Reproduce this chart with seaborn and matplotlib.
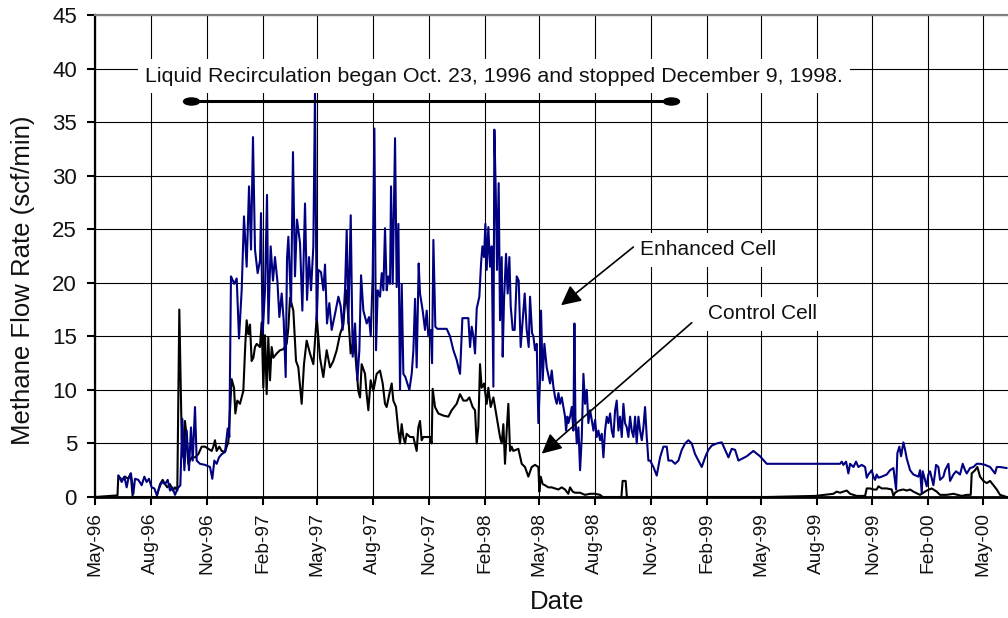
import numpy as np
import pandas as pd
import matplotlib
matplotlib.use("Agg")
import matplotlib.pyplot as plt
import matplotlib.dates as mdates
from matplotlib.path import Path
from matplotlib.transforms import Affine2D
import seaborn as sns

# ---------------- data (days since START, flow in scf/min) ----------------
START = "1996-05-01"

enhanced_day = [
    38.4, 43.9, 48.3, 52.1, 54.8, 59.2, 63.1, 65.8, 71.3, 76.8,
    81.2, 85.0, 88.8, 93.2, 97.6, 101.5, 105.3, 109.7, 115.2, 119.6,
    123.4, 127.2, 131.6, 136.0, 140.4, 143.7, 147.0, 150.8, 154.6, 157.9,
    160.7, 164.5, 167.3, 172.7, 181.0, 189.2, 193.0, 196.3, 200.2, 204.0,
    208.4, 213.9, 218.3, 221.0, 223.7, 229.2, 233.1, 236.9, 241.3, 245.1,
    249.5, 253.4, 256.7, 259.9, 263.2, 267.6, 271.5, 273.1, 275.8, 279.7,
    283.0, 285.2, 289.0, 292.8, 296.1, 300.0, 303.3, 307.1, 310.4, 313.7,
    315.9, 318.1, 322.5, 325.7, 329.0, 332.3, 337.3, 341.1, 345.5, 348.8,
    352.1, 355.4, 359.2, 361.9, 364.7, 367.4, 371.8, 375.7, 378.4, 381.7,
    385.5, 389.4, 394.9, 400.4, 404.2, 407.5, 411.3, 414.1, 416.8, 420.7,
    423.9, 427.8, 431.6, 434.9, 437.7, 441.5, 447.0, 450.8, 453.6, 456.8,
    459.6, 462.3, 465.1, 468.9, 471.7, 474.4, 477.1, 479.9, 482.6, 485.4,
    487.0, 489.8, 493.6, 496.3, 499.1, 501.8, 504.6, 507.3, 510.6, 513.9,
    517.2, 521.0, 523.8, 526.5, 529.2, 532.5, 534.7, 539.1, 542.9, 545.7,
    548.4, 552.3, 554.5, 556.7, 559.9, 563.2, 578.6, 584.1, 589.6, 595.0,
    597.8, 600.5, 604.4, 614.2, 617.0, 619.7, 622.5, 625.2, 628.0, 632.3,
    635.1, 637.3, 640.0, 642.2, 644.4, 647.1, 649.9, 652.6, 655.4, 657.0,
    659.2, 661.4, 664.1, 666.3, 669.1, 670.7, 672.9, 676.2, 678.9, 681.7,
    683.9, 687.2, 690.4, 693.8, 697.0, 700.3, 703.6, 706.9, 710.2, 713.5,
    715.7, 719.0, 721.2, 723.9, 726.7, 729.4, 732.1, 733.8, 736.5, 739.3,
    743.1, 748.7, 751.4, 754.1, 756.9, 759.6, 762.4, 765.1, 767.9, 770.6,
    773.3, 775.0, 777.2, 778.8, 781.6, 784.3, 787.0, 788.7, 790.3, 792.5,
    795.3, 798.0, 800.8, 803.5, 806.2, 809.0, 811.7, 814.5, 817.2, 820.0,
    822.7, 825.4, 828.2, 830.9, 833.7, 836.4, 839.1, 841.9, 844.6, 847.4,
    850.1, 852.8, 855.6, 858.3, 861.1, 863.8, 866.6, 869.3, 872.0, 874.8,
    877.5, 880.3, 883.0, 885.8, 888.5, 891.2, 894.0, 896.7, 899.5, 902.2,
    904.9, 907.7, 910.4, 913.2, 918.7, 924.1, 929.6, 935.1, 940.6, 943.3,
    948.8, 954.3, 959.8, 965.3, 970.8, 976.2, 981.7, 987.2, 992.7, 998.2,
    1003.7, 1009.1, 1014.6, 1022.9, 1031.1, 1036.6, 1042.1, 1047.5, 1053.0, 1058.5,
    1072.2, 1083.1, 1094.1, 1105.1, 1225.7, 1228.5, 1231.2, 1235.6, 1239.4, 1242.2,
    1247.7, 1252.0, 1255.9, 1261.4, 1266.9, 1269.6, 1272.3, 1277.8, 1280.6, 1283.3,
    1286.0, 1288.8, 1294.3, 1302.5, 1308.0, 1313.5, 1317.9, 1320.0, 1323.3, 1326.1,
    1329.9, 1332.7, 1335.4, 1340.9, 1346.4, 1354.6, 1357.3, 1360.1, 1361.7, 1368.3,
    1371.0, 1373.8, 1379.3, 1383.7, 1387.5, 1390.2, 1395.7, 1398.5, 1404.0, 1406.7,
    1412.2, 1416.6, 1423.1, 1427.5, 1431.4, 1434.1, 1439.6, 1445.1, 1450.6, 1456.0,
    1464.3, 1472.5, 1480.7, 1483.5, 1488.9, 1499.9,
]
enhanced_flow = [
    2.0, 1.4, 1.9, 0.9, 1.7, 2.2, 0.3, 1.7, 1.6, 1.1,
    1.9, 1.4, 1.7, 0.9, 0.8, 0.2, 0.8, 1.4, 1.2, 1.6,
    0.6, 0.9, 0.2, 0.8, 1.1, 7.3, 2.5, 6.2, 2.5, 6.5,
    3.4, 8.4, 3.4, 3.1, 3.0, 2.8, 1.7, 3.4, 3.1, 3.7,
    4.0, 4.2, 6.4, 5.6, 20.6, 19.9, 20.4, 14.8, 19.3, 26.2,
    21.5, 29.0, 23.1, 33.6, 23.1, 20.9, 22.1, 26.5, 15.3, 19.3,
    28.2, 16.2, 23.4, 20.2, 22.4, 20.2, 16.8, 19.0, 16.5, 11.2,
    22.3, 24.3, 17.8, 32.2, 20.6, 25.9, 23.7, 17.4, 27.4, 18.4,
    22.4, 19.3, 23.4, 37.7, 16.5, 21.2, 21.0, 19.3, 21.7, 16.2,
    18.1, 15.6, 17.1, 18.7, 17.8, 15.6, 19.3, 24.9, 16.2, 26.3,
    13.1, 16.2, 10.9, 13.7, 20.7, 17.4, 16.2, 16.8, 15.0, 20.6,
    34.4, 13.7, 19.3, 18.7, 20.9, 19.3, 25.1, 19.3, 20.6, 19.9,
    29.0, 19.9, 33.5, 19.6, 25.5, 10.0, 19.9, 11.5, 11.2, 10.6,
    10.0, 11.5, 13.7, 18.5, 12.1, 21.8, 19.0, 17.4, 15.6, 17.4,
    15.0, 15.6, 12.5, 24.0, 15.9, 15.7, 15.7, 15.0, 13.7, 12.8,
    12.1, 11.5, 16.7, 16.7, 14.0, 15.9, 15.0, 13.4, 17.6, 18.7,
    21.8, 23.4, 22.4, 25.5, 21.2, 25.2, 21.5, 23.4, 10.3, 34.3,
    28.7, 21.2, 29.3, 16.5, 22.4, 13.1, 18.4, 22.7, 19.0, 22.4,
    17.8, 15.6, 15.6, 20.6, 20.2, 14.0, 16.5, 19.0, 15.6, 14.0,
    18.7, 15.3, 15.0, 13.7, 14.3, 6.9, 10.9, 17.4, 10.9, 14.3,
    12.1, 10.6, 11.8, 10.3, 9.3, 8.7, 9.7, 8.7, 9.3, 8.4,
    7.5, 6.2, 7.5, 6.9, 7.5, 8.4, 6.2, 16.2, 7.5, 5.0,
    6.5, 2.5, 5.6, 11.5, 8.7, 10.0, 6.9, 8.1, 7.2, 6.2,
    7.2, 5.6, 6.2, 5.3, 5.9, 3.7, 6.2, 7.5, 6.9, 7.8,
    6.2, 5.6, 8.1, 9.0, 6.2, 7.5, 5.6, 8.7, 6.9, 6.5,
    5.6, 7.5, 6.2, 5.6, 7.5, 5.0, 7.5, 6.2, 5.3, 6.5,
    8.4, 5.6, 3.4, 3.4, 2.8, 2.0, 3.7, 4.7, 4.7, 3.4,
    3.4, 3.1, 3.4, 4.4, 5.0, 5.3, 5.0, 4.0, 3.4, 2.8,
    3.7, 4.4, 4.8, 5.0, 5.1, 4.4, 3.7, 4.5, 4.4, 3.4,
    3.8, 4.3, 3.8, 3.1, 3.1, 3.3, 3.0, 3.3, 2.2, 3.1,
    2.8, 3.3, 2.8, 3.0, 2.8, 1.8, 2.1, 2.5, 1.9, 1.6,
    2.1, 1.8, 1.9, 2.1, 2.5, 2.7, 0.7, 4.1, 4.7, 3.8,
    5.1, 4.4, 3.6, 2.5, 2.1, 1.9, 2.5, 0.4, 2.4, 1.0,
    2.1, 2.4, 1.1, 3.0, 2.8, 1.6, 1.9, 2.5, 3.1, 1.5,
    2.1, 2.4, 2.1, 3.1, 2.5, 2.2, 2.7, 2.8, 3.1, 3.1,
    3.0, 2.8, 2.2, 2.8, 2.8, 2.7,
]

control_day = [
    0.0, 37.0, 38.4, 43.9, 49.3, 54.8, 58.7, 62.0, 101.4, 107.0,
    111.3, 115.1, 119.0, 123.4, 127.8, 131.6, 135.4, 138.7, 142.6, 145.3,
    148.0, 150.8, 153.5, 159.0, 164.5, 170.0, 175.5, 181.0, 186.4, 191.9,
    194.7, 197.4, 200.1, 204.5, 208.4, 213.9, 216.6, 219.3, 224.8, 228.7,
    230.9, 234.1, 238.5, 241.3, 244.0, 247.3, 249.5, 252.2, 255.0, 257.7,
    260.5, 263.2, 266.0, 271.4, 274.2, 276.9, 279.7, 282.4, 285.1, 287.9,
    290.6, 293.4, 298.9, 304.3, 309.8, 315.3, 318.1, 320.8, 326.3, 330.7,
    334.5, 340.0, 343.8, 348.2, 353.7, 359.2, 364.7, 370.1, 375.6, 381.1,
    386.6, 392.1, 397.6, 403.1, 408.5, 412.9, 416.8, 420.6, 425.0, 427.7,
    433.2, 436.0, 438.7, 444.2, 446.9, 449.7, 453.5, 457.9, 463.4, 468.9,
    473.3, 477.1, 479.8, 485.3, 488.1, 490.8, 495.2, 499.0, 501.8, 504.5,
    507.3, 510.0, 512.7, 518.2, 523.7, 529.2, 531.9, 534.7, 537.4, 540.2,
    545.6, 551.1, 553.9, 555.5, 559.4, 564.8, 573.1, 581.3, 586.8, 595.0,
    600.5, 606.0, 611.5, 615.8, 621.3, 625.2, 627.9, 630.6, 633.4, 636.1,
    640.0, 644.4, 647.1, 651.0, 655.4, 658.1, 663.6, 666.3, 669.1, 671.8,
    674.5, 677.3, 680.0, 682.8, 685.5, 688.2, 696.5, 702.0, 707.4, 712.9,
    718.4, 723.9, 729.4, 731.0, 733.2, 736.5, 740.3, 745.8, 751.3, 756.8,
    762.3, 767.8, 773.2, 778.7, 781.5, 785.9, 789.7, 797.9, 806.1, 814.4,
    822.6, 830.8, 835.2, 866.0, 868.0, 873.0, 875.0, 1105.0, 1185.0, 1214.8,
    1220.2, 1225.7, 1231.2, 1236.7, 1242.2, 1253.1, 1266.9, 1269.6, 1275.1, 1280.6,
    1286.0, 1288.8, 1294.3, 1302.5, 1310.7, 1313.5, 1316.2, 1321.7, 1329.9, 1335.4,
    1340.9, 1346.4, 1357.3, 1368.3, 1376.5, 1384.8, 1390.2, 1401.2, 1412.2, 1425.9,
    1434.1, 1440.7, 1442.3, 1447.8, 1451.6, 1456.0, 1461.5, 1467.0, 1472.5, 1478.0,
    1483.5, 1488.9, 1499.9,
]
control_flow = [
    0.0, 0.15, 2.0, 1.6, 1.9, 1.7, 2.2, 0.0, 0.0, 1.2,
    1.6, 1.2, 0.9, 1.2, 0.6, 0.9, 0.6, 17.5, 5.6, 3.7,
    7.1, 5.6, 3.1, 3.7, 3.7, 4.0, 4.7, 4.7, 4.5, 4.3,
    4.7, 5.3, 4.3, 4.7, 4.3, 4.2, 4.7, 5.1, 11.0, 10.2,
    7.8, 9.0, 8.7, 9.3, 9.9, 14.3, 16.5, 15.2, 16.1, 12.7,
    13.0, 14.0, 14.3, 14.0, 16.3, 10.2, 15.1, 9.6, 14.9, 10.9,
    14.0, 13.0, 13.4, 13.7, 13.8, 14.3, 15.8, 18.6, 17.4, 12.7,
    12.1, 8.7, 12.4, 14.6, 13.4, 12.4, 16.8, 13.0, 11.2, 13.7,
    12.1, 12.7, 13.7, 15.2, 16.1, 19.3, 16.8, 13.4, 14.6, 13.7,
    9.9, 9.3, 12.4, 11.5, 9.6, 8.1, 10.9, 9.9, 11.5, 11.8,
    10.6, 8.7, 8.4, 9.9, 10.6, 9.0, 8.4, 6.2, 5.0, 6.8,
    5.6, 5.0, 5.9, 5.6, 5.6, 4.3, 6.5, 7.1, 5.3, 5.6,
    5.6, 5.6, 5.0, 10.1, 8.4, 7.8, 7.6, 7.5, 8.1, 8.7,
    9.6, 9.0, 9.0, 9.3, 8.4, 8.1, 5.0, 6.5, 12.4, 10.2,
    10.6, 8.7, 10.2, 8.4, 9.3, 8.4, 6.5, 5.6, 5.0, 6.8,
    3.1, 6.2, 8.7, 4.3, 4.7, 4.3, 4.5, 3.1, 2.8, 1.9,
    2.8, 3.0, 2.8, 0.5, 1.9, 1.2, 1.1, 0.9, 0.9, 0.8,
    0.7, 0.9, 0.7, 0.3, 0.9, 0.5, 0.4, 0.4, 0.2, 0.3,
    0.3, 0.2, 0.0, 0.0, 1.5, 1.5, 0.0, 0.0, 0.1, 0.3,
    0.5, 0.4, 0.5, 0.6, 0.3, 0.1, 0.1, 0.8, 0.8, 0.7,
    0.7, 1.0, 0.8, 0.8, 0.7, 0.1, 0.4, 0.6, 0.7, 0.6,
    0.7, 0.5, 0.2, 0.6, 0.8, 0.5, 0.2, 0.2, 0.3, 0.1,
    0.2, 0.2, 2.2, 2.5, 2.8, 1.9, 1.5, 1.3, 1.5, 1.1,
    0.7, 0.2, 0.0,
]

series_names = ["Control Cell", "Enhanced Cell"]
series_colors = ["black", "#000080"]

y_ticks = [0, 5, 10, 15, 20, 25, 30, 35, 40, 45]
x_tick_months = [2, 5, 8, 11]

# recirculation bar: end-marker days and level
recirc_days = [158, 948]
recirc_level = [37.0, 37.0]
recirc_text = "Liquid Recirculation began Oct. 23, 1996 and stopped December 9, 1998."

# ---------------- build frame ----------------
start = pd.Timestamp(START)


def to_dates(days):
    return start + pd.to_timedelta(np.asarray(days, dtype=float), unit="D")


assert len(enhanced_day) == len(enhanced_flow)
assert len(control_day) == len(control_flow)

df = pd.concat([
    pd.DataFrame({"Date": to_dates(control_day), "Flow": control_flow,
                  "Cell": series_names[0]}),
    pd.DataFrame({"Date": to_dates(enhanced_day), "Flow": enhanced_flow,
                  "Cell": series_names[1]}),
], ignore_index=True)

# ---------------- style ----------------
sns.set_theme(style="white")
plt.rcParams["font.family"] = ["Liberation Sans", "DejaVu Sans"]
TXT = "#111111"

fig = plt.figure(figsize=(10.08, 6.18), dpi=100)
ax = fig.add_axes([95 / 1008, 121 / 618, 913 / 1008, 482 / 618])

sns.lineplot(data=df, x="Date", y="Flow", hue="Cell", hue_order=series_names,
             palette=dict(zip(series_names, series_colors)), estimator=None,
             sort=False, legend=False, linewidth=1.5, ax=ax, zorder=3)

ax.set_xlim(start, start + pd.Timedelta(days=1502))
ax.set_ylim(0, 45)
ax.set_yticks(y_ticks)
ax.xaxis.set_major_locator(mdates.MonthLocator(bymonth=x_tick_months, bymonthday=1))
ax.xaxis.set_major_formatter(mdates.DateFormatter("%b-%y"))

ax.set_axisbelow(True)
ax.grid(True, color="black", linewidth=0.8)

ax.spines["right"].set_visible(False)
ax.spines["top"].set_color("#808080")
ax.spines["top"].set_linewidth(1.6)
ax.spines["left"].set_color("black")
ax.spines["left"].set_linewidth(1.6)
ax.spines["bottom"].set_color("black")
ax.spines["bottom"].set_linewidth(2.0)

ax.tick_params(axis="y", left=True, direction="out", length=6, width=1.5,
               labelsize=16, pad=7, labelcolor=TXT, color="black")
ax.tick_params(axis="x", bottom=True, direction="out", length=6, width=1.5,
               labelsize=13.8, pad=5, labelcolor=TXT, color="black",
               labelrotation=90)

ax.set_xlabel("Date", fontsize=18.5, color=TXT)
ax.set_ylabel("Methane Flow Rate (scf/min)", fontsize=18.5, color=TXT)
ax.xaxis.set_label_coords(0.5066, -0.193)
ax.yaxis.set_label_coords(-0.066, 0.45)

# recirculation period bar with elliptical end markers
ellipse = Path.unit_circle().transformed(Affine2D().scale(1.0, 0.44))
ax.plot(to_dates(recirc_days), recirc_level, color="black", linewidth=2.2,
        marker=ellipse, markersize=11.5, zorder=4)

box = dict(facecolor="white", edgecolor="none", boxstyle="square,pad=0.35")
ax.text(start + pd.Timedelta(days=656.5), 38.75, recirc_text, ha="center",
        va="baseline", fontsize=15.4, color=TXT, bbox=box, zorder=5)
ax.text(start + pd.Timedelta(days=896.7), 22.57, "Enhanced Cell", ha="left",
        va="baseline", fontsize=15, color=TXT, bbox=box, zorder=5)
ax.text(start + pd.Timedelta(days=1008.1), 16.59, "Control Cell", ha="left",
        va="baseline", fontsize=15, color=TXT, bbox=box, zorder=5)

arrow = dict(arrowstyle="-|>,head_length=0.6,head_width=0.3", color="black",
             lw=1.2, mutation_scale=20, shrinkA=0, shrinkB=0)
ax.annotate("", xy=(start + pd.Timedelta(days=766.7), 17.9),
            xytext=(start + pd.Timedelta(days=885.7), 23.34),
            arrowprops=arrow, zorder=6)
ax.annotate("", xy=(start + pd.Timedelta(days=735.0), 4.05),
            xytext=(start + pd.Timedelta(days=981.7), 16.27),
            arrowprops=arrow, zorder=6)

fig.savefig("out.png", dpi=100)
